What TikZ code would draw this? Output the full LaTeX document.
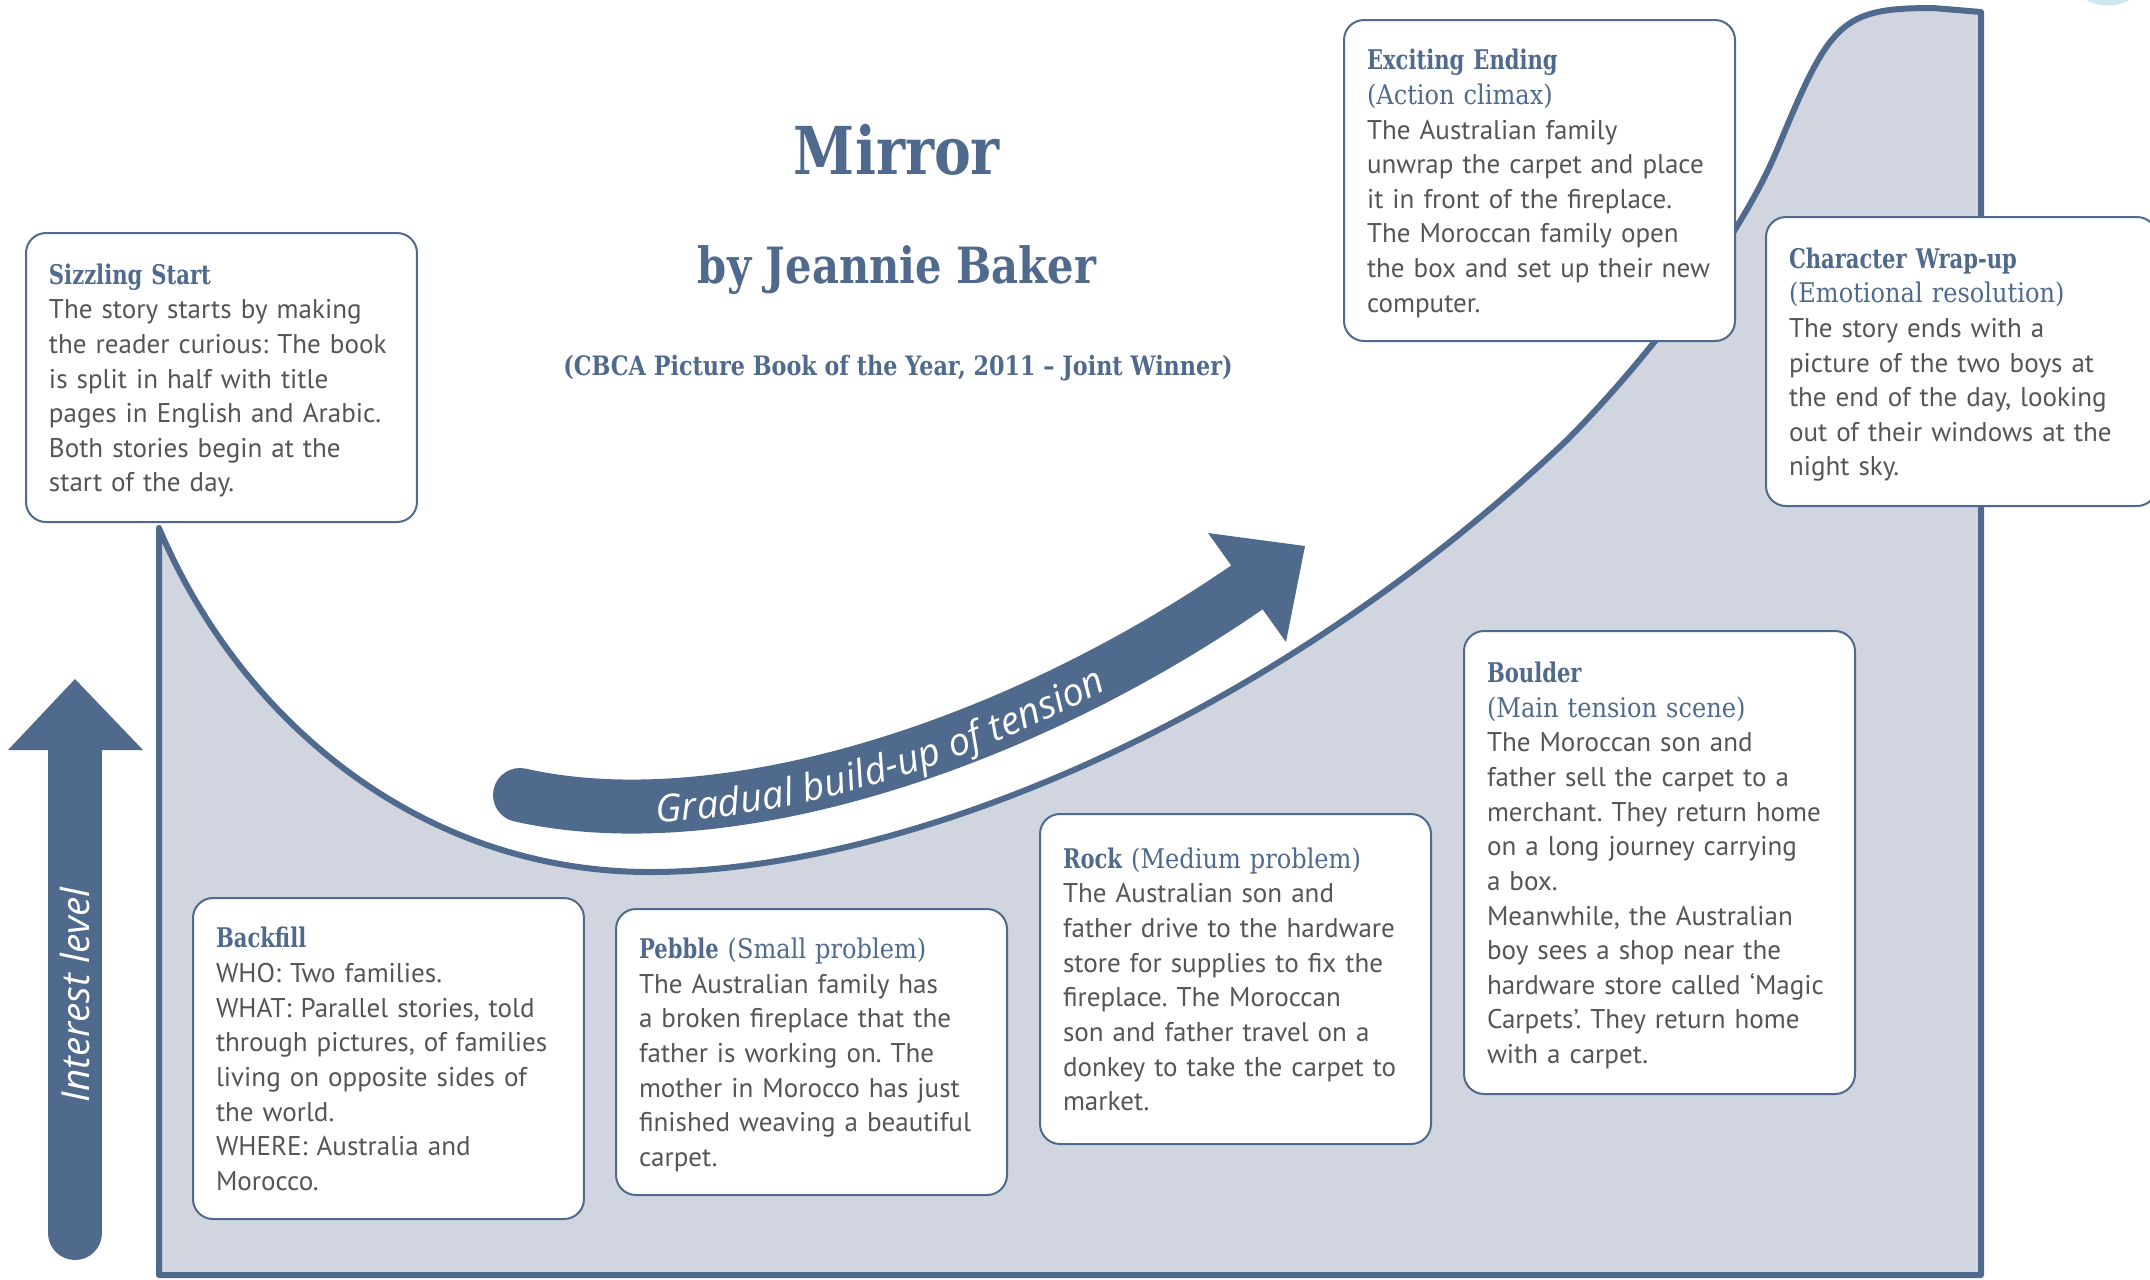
\documentclass[tikz,border=0pt]{standalone}
\usepackage{fontspec}
\setmainfont{PT Sans}
\newfontfamily\slabfont{DejaVu Serif}[FakeStretch=0.78]
\newfontfamily\notefont{DejaVu Serif}[FakeStretch=0.89]
\newfontfamily\titlefont{DejaVu Serif}[FakeStretch=0.835]
\newfontfamily\curvefont{Open Sans}
\usetikzlibrary{decorations.text}
\definecolor{inkblue}{RGB}{79,106,140}
\definecolor{paneblue}{RGB}{208,213,224}
\definecolor{bodygrey}{RGB}{85,85,85}
\definecolor{capcyan}{RGB}{205,230,236}
\newcommand{\stagehead}[1]{\rule{0pt}{3.14mm}{\slabfont\bfseries\color{inkblue}#1}}
\newcommand{\stagenote}[1]{{\notefont\color{inkblue}#1}}
\frenchspacing

\begin{document}
\begin{tikzpicture}[x=0.1mm, y=-0.1mm,
  stage/.style={draw=inkblue, line width=0.2mm, rounded corners=2mm, fill=white,
    anchor=north west, text width=34.5mm, inner xsep=2.3mm, inner ysep=0pt,
    align=left, text=bodygrey, font=\fontsize{7.7}{9.86}\selectfont},
  title/.style={text=inkblue, anchor=base, inner sep=0pt}]
  \useasboundingbox (0,0) rectangle (2150,1279);
  \fill[capcyan] (2108,-40) circle [radius=4.55mm];
  \filldraw[fill=paneblue, draw=inkblue, line width=0.6mm, line join=round]
    (159,528) .. controls (240,720) and (420,872) .. (650,872)
    .. controls (900,872) and (1267,725) .. (1567,440)
    .. controls (1637,370) and (1737,246) .. (1777,150)
    .. controls (1830,22) and (1840,8) .. (1933,8)
    -- (1981,12) -- (1981,1275) -- (159,1275) -- cycle;
  \draw[inkblue, line width=5.4mm, line cap=round] (520,795) .. controls (720,840) and (1010,750) .. (1246,588);
  \fill[inkblue] (1208,533) -- (1305,546) -- (1286,642) -- cycle;
  \path[decorate, decoration={text along path, text color=white, raise=-1.6mm,
    text align={left indent=13.6mm},
    text={|\curvefont\itshape\fontsize{10.9}{12}\selectfont|Gradual build-up of tension}}]
    (520,795) .. controls (720,840) and (1010,750) .. (1246,588);
  \draw[inkblue, line width=5.4mm, line cap=round] (75,1233) -- (75,745);
  \fill[inkblue] (8,750) -- (75,679) -- (143,750) -- cycle;
  \node[rotate=90, text=white, inner sep=0pt, font=\curvefont\itshape\fontsize{11}{12}\selectfont] (interest) at (75,995) {Interest level};
  \node[title, font=\titlefont\bfseries\fontsize{18.8}{22}\selectfont] (booktitle) at (897,174) {Mirror};
  \node[title, font=\titlefont\bfseries\fontsize{14.2}{17}\selectfont] (author) at (897,283) {by Jeannie Baker};
  \node[title, font=\titlefont\bfseries\fontsize{7.6}{9}\selectfont] (award) at (898,375) {(CBCA Picture Book of the Year, 2011 – Joint Winner)};
  \node[stage, minimum height=28.9mm] (sizzling) at (25,232) {\begin{tabular}{@{}l@{}}
    \stagehead{Sizzling Start}\\
    The story starts by making\\
    the reader curious: The book\\
    is split in half with title\\
    pages in English and Arabic.\\
    Both stories begin at the\\
    start of the day.\end{tabular}};
  \node[stage, minimum height=32.1mm] (ending) at (1343,19) {\begin{tabular}{@{}l@{}}
    \stagehead{Exciting Ending}\\
    \stagenote{(Action climax)}\\
    The Australian family\\
    unwrap the carpet and place\\
    it in front of the fireplace.\\
    The Moroccan family open\\
    the box and set up their new\\
    computer.\end{tabular}};
  \node[stage, minimum height=28.9mm] (wrapup) at (1765,216) {\begin{tabular}{@{}l@{}}
    \stagehead{Character Wrap-up}\\
    \stagenote{(Emotional resolution)}\\
    The story ends with a\\
    picture of the two boys at\\
    the end of the day, looking\\
    out of their windows at the\\
    night sky.\end{tabular}};
  \node[stage, minimum height=32.1mm] (backfill) at (192,897) {\begin{tabular}{@{}l@{}}
    \stagehead{Backfill}\\
    WHO: Two families.\\
    WHAT: Parallel stories, told\\
    through pictures, of families\\
    living on opposite sides of\\
    the world.\\
    WHERE: Australia and\\
    Morocco.\end{tabular}};
  \node[stage, minimum height=28.6mm] (pebble) at (615,908) {\begin{tabular}{@{}l@{}}
    \stagehead{Pebble} \stagenote{(Small problem)}\\
    The Australian family has\\
    a broken fireplace that the\\
    father is working on. The\\
    mother in Morocco has just\\
    finished weaving a beautiful\\
    carpet.\end{tabular}};
  \node[stage, minimum height=33mm] (rock) at (1039,813) {\begin{tabular}{@{}l@{}}
    \stagehead{Rock} \stagenote{(Medium problem)}\\
    The Australian son and\\
    father drive to the hardware\\
    store for supplies to fix the\\
    fireplace. The Moroccan\\
    son and father travel on a\\
    donkey to take the carpet to\\
    market.\end{tabular}};
  \node[stage, minimum height=46.3mm] (boulder) at (1463,630) {\begin{tabular}{@{}l@{}}
    \stagehead{Boulder}\\
    \stagenote{(Main tension scene)}\\
    The Moroccan son and\\
    father sell the carpet to a\\
    merchant. They return home\\
    on a long journey carrying\\
    a box.\\
    Meanwhile, the Australian\\
    boy sees a shop near the\\
    hardware store called ‘Magic\\
    Carpets’. They return home\\
    with a carpet.\end{tabular}};
\end{tikzpicture}
\end{document}
